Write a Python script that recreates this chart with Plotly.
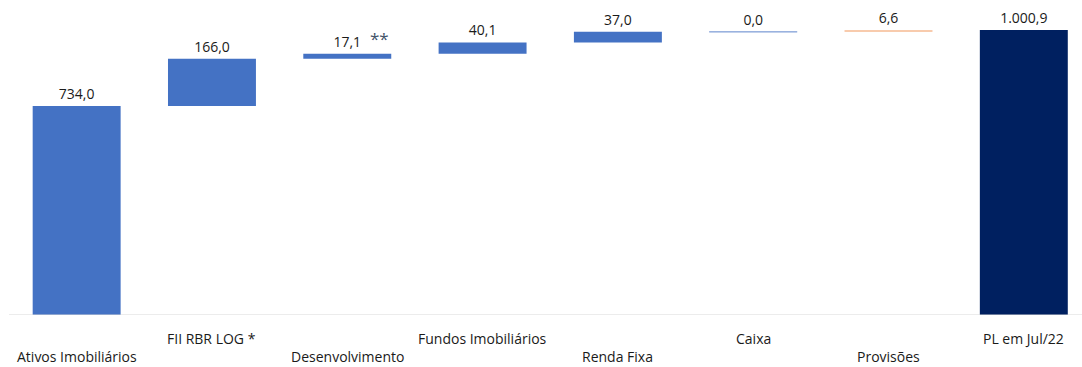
import plotly.graph_objects as go

# Composição do PL (R$ milhões)
categorias = ["Ativos Imobiliários", "FII RBR LOG *", "Desenvolvimento", "Fundos Imobiliários",
              "Renda Fixa", "Caixa", "Provisões", "PL em Jul/22"]
valores = [734.0, 166.0, 17.1, 40.1, 37.0, 0.0, 6.6, 1000.9]
tipos = ["relative", "relative", "relative", "relative", "relative", "relative", "relative", "total"]
cores = ["#4472C4", "#4472C4", "#4472C4", "#4472C4", "#4472C4", "#8EA9DB", "#F8CBAD", "#002060"]
notas = {"Desenvolvimento": "**"}

# bases acumuladas da cascata
bases = []
acum = 0.0
for v, t in zip(valores, tipos):
    if t == "total":
        bases.append(0.0)
    else:
        bases.append(acum)
        acum += v

x = list(range(len(categorias)))
textos = [f"{v:,.1f}".replace(",", "X").replace(".", ",").replace("X", ".") for v in valores]
fonte = "Open Sans, Noto Sans, sans-serif"

fig = go.Figure()
fig.add_trace(go.Bar(
    x=x, y=valores, base=bases,
    width=0.65,
    marker=dict(color=cores, line=dict(color=cores, width=[0, 0, 0, 0, 0, 1, 0, 0])),
    text=textos, textposition="outside",
    textfont=dict(family=fonte, size=14, color="#1a1a1a"),
    cliponaxis=False,
    hoverinfo="skip",
))

anotacoes = []
for i, c in enumerate(categorias):
    anotacoes.append(dict(
        x=i, y=-0.075 if i % 2 else -0.133, xref="x", yref="paper",
        text=c, showarrow=False, yanchor="middle",
        font=dict(family=fonte, size=14, color="#1a1a1a"),
    ))
    if c in notas:
        anotacoes.append(dict(
            x=i + 0.24, y=bases[i] + valores[i], xref="x", yref="y",
            text=notas[c], showarrow=False, yanchor="bottom", yshift=2,
            font=dict(family=fonte, size=17, color="#44546A"),
        ))

fig.update_layout(
    width=1082, height=367,
    margin=dict(l=9, r=0, t=0, b=52),
    paper_bgcolor="white", plot_bgcolor="white",
    separators=",.",
    showlegend=False,
    annotations=anotacoes,
    xaxis=dict(range=[-0.5, 7.43], showticklabels=False, showgrid=False, zeroline=False,
               showline=False, ticks=""),
    yaxis=dict(range=[0, 1106], visible=False, showgrid=False, zeroline=False),
    shapes=[dict(type="line", xref="paper", yref="y", x0=0, x1=1, y0=0, y1=0,
                 line=dict(color="#D9D9D9", width=1))],
)

fig.write_html("out.html")
